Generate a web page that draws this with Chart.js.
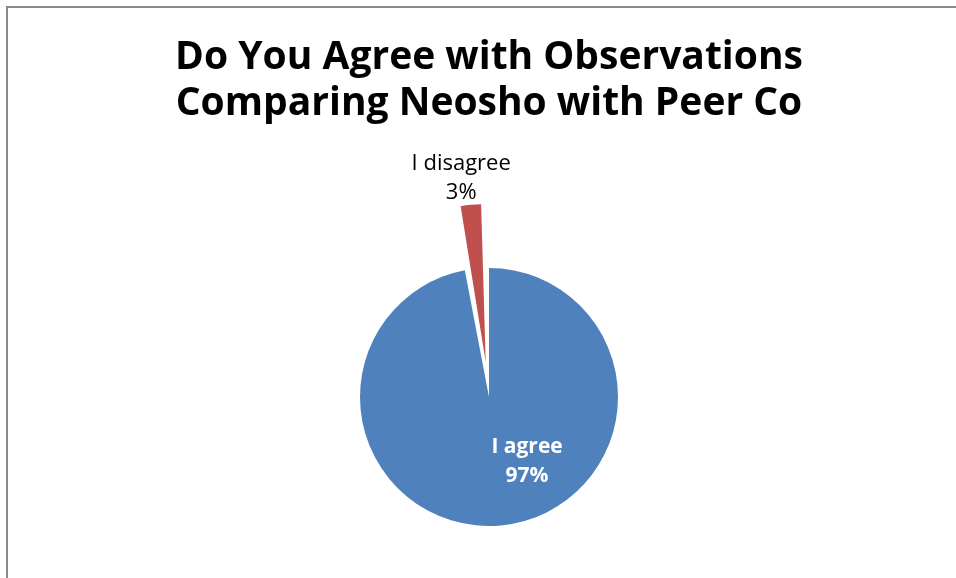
<!DOCTYPE html>
<html>
<head>
<meta charset="utf-8">
<script src="https://cdn.jsdelivr.net/npm/chart.js@4"></script>
<style>
  html, body { margin: 0; padding: 0; background: #fff; overflow: hidden; }
  #wrap { width: 956px; height: 578px; position: relative; }
</style>
</head>
<body>
<div id="wrap"><canvas id="chart"></canvas></div>
<script>
const titleLines = ['Do You Agree with Observations', 'Comparing Neosho with Peer Co'];
const categories = ['I agree', 'I disagree'];
const values = [97, 3];
const sliceColors = ['#4F81BD', '#C0504D'];
const explodePx = [0, 64]; // how far each slice is pulled out

const fontFamily = '"Open Sans", "Liberation Sans", sans-serif';
const total = values.reduce((a, b) => a + b, 0);

// Chart.js arcs move by offset/4 * (2 - sin(circumference)), so invert that
const arcOffsets = values.map((v, i) => {
  const circ = Math.min(Math.PI, v / total * Math.PI * 2);
  return explodePx[i] * 4 / (2 - Math.sin(circ));
});

// gray frame like the Excel chart area border
const framePlugin = {
  id: 'frame',
  beforeDraw(chart) {
    const ctx = chart.ctx;
    ctx.save();
    ctx.strokeStyle = '#8a8a8a';
    ctx.lineWidth = 2;
    ctx.beginPath();
    ctx.moveTo(7, chart.height);
    ctx.lineTo(7, 7);
    ctx.lineTo(chart.width, 7);
    ctx.stroke();
    ctx.restore();
  }
};

// data labels: category + percentage
const labelPlugin = {
  id: 'sliceLabels',
  afterDatasetsDraw(chart) {
    const ctx = chart.ctx;
    const meta = chart.getDatasetMeta(0);
    meta.data.forEach((arc, i) => {
      const p = arc.getProps(['x', 'y', 'startAngle', 'endAngle', 'outerRadius']);
      const pct = Math.round(values[i] / total * 100) + '%';
      let x, y, color, weight, size;
      if (i === 0) {
        x = p.x + p.outerRadius * 0.295;
        y = p.y + p.outerRadius * 0.39;
        color = '#ffffff';
        weight = 'bold';
        size = 21;
      } else {
        const mid = (p.startAngle + p.endAngle) / 2;
        const d = p.outerRadius + explodePx[i] + 28;
        x = p.x + Math.cos(mid) * d - 7;
        y = p.y + Math.sin(mid) * d - 13;
        color = '#000000';
        weight = 'normal';
        size = 22;
      }
      ctx.save();
      ctx.fillStyle = color;
      ctx.font = weight + ' ' + size + 'px ' + fontFamily;
      ctx.textAlign = 'center';
      ctx.textBaseline = 'middle';
      ctx.fillText(categories[i], x, y);
      ctx.fillText(pct, x, y + 29);
      ctx.restore();
    });
  }
};

new Chart(document.getElementById('chart'), {
  type: 'pie',
  data: {
    labels: categories,
    datasets: [{
      data: values,
      backgroundColor: sliceColors,
      borderWidth: 0,
      offset: arcOffsets
    }]
  },
  options: {
    responsive: true,
    maintainAspectRatio: false,
    animation: false,
    events: [],
    radius: 129,
    layout: { padding: { left: 22, right: 0, top: 0, bottom: 0 } },
    plugins: {
      legend: { display: false },
      tooltip: { enabled: false },
      title: {
        display: true,
        text: titleLines,
        color: '#000000',
        font: { family: fontFamily, size: 39, weight: 'bold', lineHeight: '46px' },
        // big bottom padding pushes the pie centre down to ~y 397
        padding: { top: 35, bottom: 89 }
      }
    }
  },
  plugins: [framePlugin, labelPlugin]
});
</script>
</body>
</html>
